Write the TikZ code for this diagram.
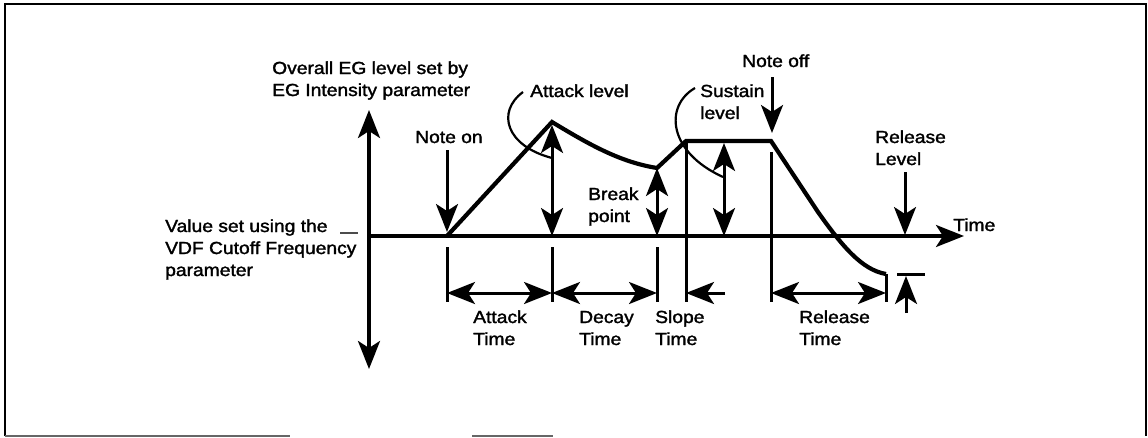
\documentclass[tikz,border=0pt]{standalone}
\usepackage{fontspec}
\setmainfont{Liberation Sans}
\newfontfamily\lblfont{Liberation Sans}[FakeBold=1.6]
\usetikzlibrary{arrows.meta}

% multi-line label whose reference point is the baseline of its first line
\newcommand{\lbl}[1]{\begin{tabular}[t]{@{}l@{}}#1\end{tabular}}

\begin{document}
\begin{tikzpicture}[x=1pt, y=-1pt,
  >={Stealth[length=28pt,width=22pt,inset=7pt]},
  txt/.style={inner sep=0pt, anchor=base west, xscale=1.1,
              font=\lblfont\fontsize{17.5}{22}\selectfont},
  axisline/.style={line width=3.4pt},
  envelope/.style={line width=4.2pt, line join=miter},
  marker/.style={line width=3pt},
  leader/.style={line width=2.2pt},
  frameline/.style={line width=1.6pt}]

\useasboundingbox (0,0) rectangle (1148,437);

% frame
\draw[frameline] (5,436) -- (5,4) -- (1146,4) -- (1146,436);
\draw[frameline, black!60] (5,436) -- (290,436) (472,436) -- (553,436);

% key points of the envelope
\coordinate (on)    at (447,236);
\coordinate (peak)  at (552,122);
\coordinate (brk)   at (657,168);
\coordinate (sus)   at (686,141);
\coordinate (off)   at (771,141);
\coordinate (rel)   at (818,212);
\coordinate (end)   at (886,274);

% axes
\coordinate (ytop) at (369,110);
\coordinate (ybot) at (369,369);
\coordinate (x0)   at (369,236);
\coordinate (xend) at (964,236);
\draw[axisline, <->] (ybot) -- (ytop);
\draw[axisline, ->] (x0) -- (xend);
\coordinate (d1) at (340,233);
\coordinate (d2) at (358,233);
\draw[line width=1.4pt, black!70] (d1) -- (d2);

% envelope
\draw[envelope] (on) -- (peak)
  .. controls (590,145) and (620,162) .. (brk)
  -- (sus) -- (off) -- (rel)
  .. controls (842,246) and (862,270) .. (end);

% level arrows
\coordinate (pk0) at (552,236);
\coordinate (pk1) at (552,125);
\draw[marker, <->] (pk0) -- (pk1);
\coordinate (bp0) at (657,236);
\draw[marker, <->] (bp0) -- (brk);
\coordinate (sl0) at (724,236);
\coordinate (sl1) at (724,143);
\draw[marker, <->] (sl0) -- (sl1);

% event arrows
\coordinate (non0) at (447,150);
\coordinate (non1) at (447,232);
\draw[marker, ->] (non0) -- (non1);
\coordinate (nof0) at (772,77);
\coordinate (nof1) at (772,133);
\draw[marker, ->] (nof0) -- (nof1);
\coordinate (rl0) at (905,172);
\coordinate (rl1) at (905,235);
\draw[marker, ->] (rl0) -- (rl1);

% release level marker
\coordinate (bar0) at (897,274);
\coordinate (bar1) at (925,274);
\draw[marker] (bar0) -- (bar1);
\coordinate (up0) at (906,313);
\coordinate (up1) at (906,276);
\draw[marker, ->] (up0) -- (up1);

% time marks below the axis
\foreach \x in {447,552,657}
  \draw[marker] (\x,247) -- (\x,302);
\coordinate (sm) at (686,302);
\draw[marker] (sus) -- (sm);
\coordinate (om0) at (771,152);
\coordinate (om1) at (771,302);
\draw[marker] (om0) -- (om1);
\coordinate (em) at (886,302);
\draw[marker] (end) -- (em);

% time spans
\coordinate (a0) at (447,293);
\coordinate (a1) at (552,293);
\coordinate (a2) at (657,293);
\coordinate (s0) at (725,293);
\coordinate (s1) at (686,293);
\coordinate (r0) at (771,293);
\coordinate (r1) at (886,293);
\draw[marker, <->] (a0) -- (a1);
\draw[marker, <->] (a1) -- (a2);
\draw[marker, ->] (s0) -- (s1);
\draw[marker, <->] (r0) -- (r1);

% leaders
\coordinate (al0) at (523,92);
\coordinate (al1) at (552,158);
\draw[leader] (al0) .. controls (496,112) and (506,146) .. (al1);
\coordinate (sv0) at (695,88);
\coordinate (sv1) at (723,177);
\draw[leader] (sv0) .. controls (664,106) and (668,152) .. (sv1);

% labels
\node[txt] (overall) at (272,74)  {\lbl{Overall EG level set by\\EG Intensity parameter}};
\node[txt] (value)   at (165,232) {\lbl{Value set using the\\VDF Cutoff Frequency\\parameter}};
\node[txt] (atl)     at (530,97)  {Attack level};
\node[txt] (non)     at (415,143) {Note on};
\node[txt] (noff)    at (742,67)  {Note off};
\node[txt] (susl)    at (700,97)  {\lbl{Sustain\\level}};
\node[txt] (rell)    at (875,143) {\lbl{Release\\Level}};
\node[txt] (brkp)    at (588,200) {\lbl{Break\\point}};
\node[txt] (time)    at (953,231) {Time};
\node[txt] (att)     at (473,323) {\lbl{Attack\\Time}};
\node[txt] (dect)    at (579,323) {\lbl{Decay\\Time}};
\node[txt] (slt)     at (655,323) {\lbl{Slope\\Time}};
\node[txt] (relt)    at (799,323) {\lbl{Release\\Time}};
\end{tikzpicture}
\end{document}
